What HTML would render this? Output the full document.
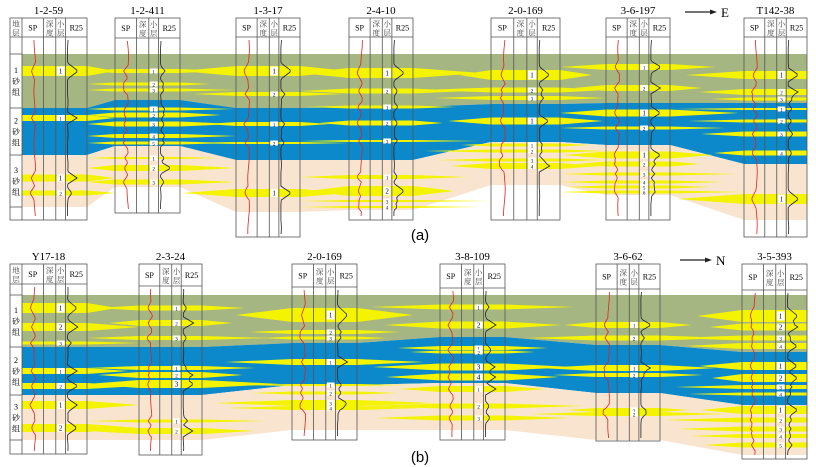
<!DOCTYPE html>
<html><head><meta charset="utf-8">
<style>
body{margin:0;background:#fff;}
svg{display:block;font-family:"Liberation Serif","Noto Serif CJK SC",serif;}
</style></head><body>
<svg id="s" width="816" height="467" viewBox="0 0 816 467" xmlns="http://www.w3.org/2000/svg"></svg>
<script>
const G='#a6b683',B='#0b89cb',Be='#f9e5cf',Y='#f4f400';
const panels=[
 {hy:18,wells:[
  {n:'1-2-59',x0:10,x1:87,dc:1,hb:37,bot:220,b:[54,108,155,207],y:[[71,10],[118,6],[178,7],[193,5]]},
  {n:'1-2-411',x0:115,x1:180,hb:38,bot:213,b:[54,100,146,187],y:[[71,4],[84,3],[90,3],[109,3],[115,5],[124,5],[136,4],[143,3],[158,2],[168,6],[182,5]]},
  {n:'1-3-17',x0:236,x1:300,hb:37,bot:237,b:[54,108,160,212],y:[[71,10],[94,4],[124,4],[143,2],[193,8]]},
  {n:'2-4-10',x0:349,x1:413,hb:37,bot:220,b:[54,107,160,210],y:[[73,10],[91,5],[107,3],[123,5],[141,2],[177,4],[191,10],[201,2],[207,2]]},
  {n:'2-0-169',x0:491,x1:560,hb:37,bot:220,b:[54,104,142,185],y:[[75,10],[90,5],[98,4],[121,7],[145,3],[151,3],[160,3],[166,6]]},
  {n:'3-6-197',x0:606,x1:670,hb:37,bot:220,b:[54,103,145,195],y:[[67,6],[88,6],[113,7],[128,3],[155,7],[164,5],[174,3],[182,3],[187,3],[192,3]]},
  {n:'T142-38',x0:744,x1:807,hb:37,bot:237,b:[54,103,164,220],y:[[75,8],[92,6],[99,3],[109,2],[121,3],[134,5],[153,5],[199,10]]}
 ],lab:'(a)',ly:240,arrow:[685,12,'E']},
 {hy:264,wells:[
  {n:'Y17-18',x0:10,x1:87,dc:1,hb:284,bot:454,b:[295,347,395,440],y:[[308,10],[327,8],[343,3],[371,6],[386,6],[405,8],[428,8]]},
  {n:'2-3-24',x0:139,x1:202,hb:286,bot:455,b:[295,347,395,440],y:[[308,5],[323,6],[338,4],[368,4],[375,6],[384,8],[421,3],[431,6]]},
  {n:'2-0-169',x0:292,x1:357,hb:287,bot:440,b:[295,343,385,430],y:[[315,14],[332,4],[338,3],[362,6],[385,2],[393,3],[403,6],[408,4]]},
  {n:'3-8-109',x0:440,x1:505,hb:288,bot:440,b:[295,337,383,430],y:[[307,5],[325,7],[348,4],[352,3],[367,7],[377,7],[389,6],[406,5],[418,5]]},
  {n:'3-6-62',x0:596,x1:660,hb:289,bot:441,b:[295,345,393,440],y:[[325,6],[338,5],[368,6],[375,4],[410,4],[414,4]]},
  {n:'3-5-393',x0:742,x1:807,hb:290,bot:459,b:[295,352,405,455],y:[[316,12],[327,7],[338,5],[346,6],[366,8],[378,8],[387,4],[394,3],[410,8],[420,5],[429,5],[436,4],[445,5]]}
 ],lab:'(b)',ly:462,arrow:[680,260,'N']}
];
let o='';
for(const p of panels){
 const W=p.wells;
 const cols=[G,B,Be];
 for(let k=0;k<3;k++){
  let top=[],bot=[];
  W.forEach(w=>{const xa=w.x0+(w.dc?12:0);top.push([xa,w.b[k]],[w.x1,w.b[k]]);bot.push([xa,w.b[k+1]],[w.x1,w.b[k+1]]);});
  const pts=top.concat(bot.reverse()).map(a=>a.join(',')).join(' ');
  o+=`<polygon points="${pts}" fill="${cols[k]}"/>`;
 }
 W.forEach((w,i)=>{
  const xa=w.x0+(w.dc?12:0);
  w.y.forEach(([c,t],j)=>{
   const ext=30+((j*37+i*13)%50);
   const l=i>0?Math.max(xa-ext,W[i-1].x1):xa, r=i<W.length-1?Math.min(w.x1+ext,W[i+1].x0+(W[i+1].dc?12:0)):w.x1;
   o+=`<polygon points="${l},${c} ${xa},${c-t/2} ${w.x1},${c-t/2} ${r},${c} ${w.x1},${c+t/2} ${xa},${c+t/2}" fill="${Y}"/>`;
  });
 });
 W.forEach((w,i)=>{
  const xa=w.x0+(w.dc?12:0), ww=w.x1-xa;
  const xs=[xa,xa+ww*0.33,xa+ww*0.52,xa+ww*0.67,w.x1];
  o+=`<rect x="${w.x0}" y="${w.hb}" width="${w.x1-w.x0}" height="${w.b[0]-w.hb}" fill="#fff"/>`;
  o+=`<rect x="${w.x0}" y="${w.b[3]}" width="${w.x1-w.x0}" height="${w.bot-w.b[3]}" fill="#fff"/>`;
  if(w.dc) o+=`<rect x="${w.x0}" y="${w.b[0]}" width="12" height="${w.b[3]-w.b[0]}" fill="#fff"/>`;
  o+=`<rect x="${w.x0}" y="${p.hy}" width="${w.x1-w.x0}" height="${w.bot-p.hy}" fill="none" stroke="#555" stroke-width="0.8"/>`;
  o+=`<line x1="${w.x0}" y1="${w.hb}" x2="${w.x1}" y2="${w.hb}" stroke="#555" stroke-width="0.8"/>`;
  const all=w.dc?[w.x0].concat(xs):xs;
  all.slice(1,-1).forEach(x=>o+=`<line x1="${x}" y1="${p.hy}" x2="${x}" y2="${w.bot}" stroke="#555" stroke-width="0.8"/>`);
  const hm=(p.hy+w.hb)/2;
  o+=`<text x="${(w.x0+w.x1)/2}" y="${p.hy-4}" font-size="11" text-anchor="middle">${w.n}</text>`;
  o+=`<text x="${(xs[0]+xs[1])/2}" y="${hm+3}" font-size="8" text-anchor="middle">SP</text>`;
  o+=`<text x="${(xs[1]+xs[2])/2}" y="${hm-1}" font-size="7.5" text-anchor="middle" fill="#444">深</text><text x="${(xs[1]+xs[2])/2}" y="${hm+8}" font-size="7.5" text-anchor="middle" fill="#444">度</text>`;
  o+=`<text x="${(xs[2]+xs[3])/2}" y="${hm-1}" font-size="7.5" text-anchor="middle" fill="#444">小</text><text x="${(xs[2]+xs[3])/2}" y="${hm+8}" font-size="7.5" text-anchor="middle" fill="#444">层</text>`;
  o+=`<text x="${(xs[3]+xs[4])/2}" y="${hm+3}" font-size="8" text-anchor="middle">R25</text>`;
  if(w.dc){
   const cx=w.x0+6;
   o+=`<text x="${cx}" y="${hm-1}" font-size="7.5" text-anchor="middle" fill="#444">地</text><text x="${cx}" y="${hm+8}" font-size="7.5" text-anchor="middle" fill="#444">层</text>`;
   for(let k=0;k<3;k++){const m=(w.b[k]+w.b[k+1])/2;
    o+=`<text x="${cx}" y="${m-8}" font-size="8" text-anchor="middle">${k+1}</text><text x="${cx}" y="${m+3}" font-size="8" text-anchor="middle">砂</text><text x="${cx}" y="${m+14}" font-size="8" text-anchor="middle">组</text>`;
    o+=`<line x1="${w.x0}" y1="${w.b[k]}" x2="${xa}" y2="${w.b[k]}" stroke="#555" stroke-width="0.8"/>`;}
   o+=`<line x1="${w.x0}" y1="${w.b[3]}" x2="${xa}" y2="${w.b[3]}" stroke="#555" stroke-width="0.8"/>`;
  }
  let sp=[],r=[];const spx=(xs[0]+xs[1])/2+2, rx=xs[3]+2;
  for(let y=w.hb+3;y<w.bot-2;y+=2){
   let dsp=Math.sin(y*0.12+i)*0.8, dr=Math.sin(y*0.2)*0.5;
   w.y.forEach(([c,t],j)=>{const d=Math.abs(y-c);if(d<t/2+3){dsp-=4*(1-d/(t/2+4));dr+=(t>5?10:4)*(1-d/(t/2+3));}});
   sp.push(`${(spx+dsp).toFixed(1)},${y}`);r.push(`${(rx+Math.max(0,dr)).toFixed(1)},${y}`);
  }
  o+=`<polyline points="${sp.join(' ')}" fill="none" stroke="#e02020" stroke-width="0.8"/>`;
  o+=`<polyline points="${r.join(' ')}" fill="none" stroke="#222" stroke-width="0.8"/>`;
  let cnt=[0,0,0];
  w.y.forEach(([c,t])=>{const k=c<w.b[1]?0:c<w.b[2]?1:2;cnt[k]++;
   const h=Math.max(5,Math.min(t,9));
   o+=`<rect x="${xs[2]+1}" y="${c-h/2}" width="${xs[3]-xs[2]-2}" height="${h}" fill="#fff"/>`;
   o+=`<text x="${(xs[2]+xs[3])/2}" y="${c+2.5}" font-size="${h>6?7:5}" text-anchor="middle">${cnt[k]}</text>`;});
 });
 o+=`<text x="420" y="${p.ly}" font-family="Liberation Sans,sans-serif" font-size="15" text-anchor="middle">${p.lab}</text>`;
 const [ax,ay,al]=p.arrow;
 o+=`<line x1="${ax}" y1="${ay}" x2="${ax+28}" y2="${ay}" stroke="#222" stroke-width="1.2"/><polygon points="${ax+32},${ay} ${ax+25},${ay-2.5} ${ax+25},${ay+2.5}" fill="#222"/><text x="${ax+36}" y="${ay+5}" font-size="13">${al}</text>`;
}
document.getElementById('s').innerHTML=o;
</script>
</body></html>
